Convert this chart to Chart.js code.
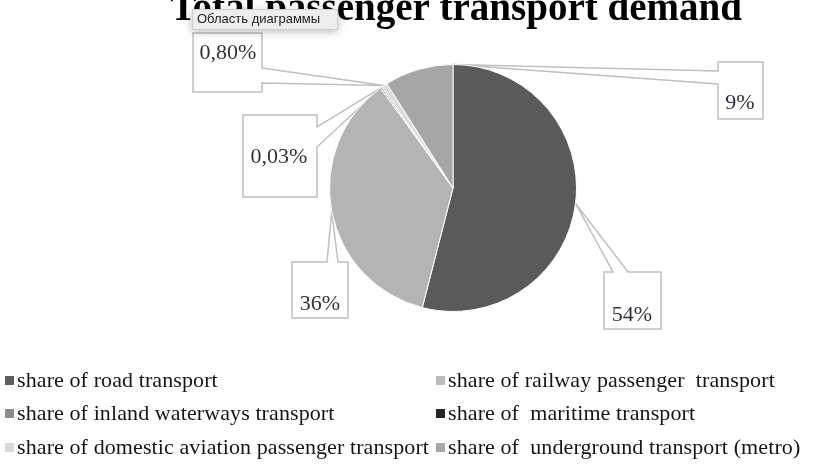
<!DOCTYPE html>
<html>
<head>
<meta charset="utf-8">
<script src="https://cdn.jsdelivr.net/npm/chart.js@4.4.1/dist/chart.umd.min.js"></script>
<style>
  html, body { margin: 0; padding: 0; background: #fff; }
  #wrap { position: relative; width: 830px; height: 469px; overflow: hidden; }
  #legend { position: absolute; left: 0; top: 0; width: 830px; height: 469px; pointer-events: none; }
  .item { position: absolute; font-family: "Liberation Serif", "Times New Roman", serif; font-size: 22px; letter-spacing: 0.1px; color: #151515; white-space: pre; line-height: 24px; }
  .item .box { display: inline-block; width: 9px; height: 9px; margin-right: 3px; vertical-align: 2px; }
</style>
</head>
<body>
<div id="wrap">
  <canvas id="myChart" width="830" height="469"></canvas>
  <div id="legend"></div>
</div>
<script>
// chart data
var categories = [
    "share of road transport",
    "share of railway passenger  transport",
    "share of inland waterways transport",
    "share of  maritime transport",
    "share of domestic aviation passenger transport",
    "share of  underground transport (metro)"
];
var shares = [54, 36, 0.03, 0.17, 0.8, 9];
var shareLabels = ["54%", "36%", "0,03%", "", "0,80%", "9%"];
var sliceColors = ["#5a5a5a", "#b4b4b4", "#8e8e8e", "#262626", "#dcdcdc", "#a6a6a6"];
var legendColors = ["#5e5e5e", "#bcbcbc", "#8c8c8c", "#262626", "#dadada", "#a8a8a8"];

// callout boxes (x, y, w, h), side where the pointer leaves, pointer base, text centre
var callouts = [
    { box: [604, 272, 57, 57], side: "top",   base: [613, 628], text: [632, 315], at: 0.5 },
    { box: [292, 262, 56, 56], side: "top",   base: [327, 338], text: [320, 304], at: 0.5 },
    { box: [243, 115, 74, 82], side: "right", base: [127, 147], text: [279, 157], at: 0.5 },
    null,
    { box: [193, 33, 69, 59],  side: "right", base: [68, 83],   text: [228, 53],  at: 0.5 },
    { box: [718, 62, 45, 57],  side: "left",  base: [71, 84],   text: [740, 103], at: 1.0 }
];

var calloutPlugin = {
    id: "callouts",
    beforeDatasetsDraw: function(chart) {
        var ctx = chart.ctx;
        var arcs = chart.getDatasetMeta(0).data;
        ctx.save();
        for (var i = 0; i < arcs.length; i++) {
            var c = callouts[i];
            if (!c) continue;
            var a = arcs[i];
            var ang = a.startAngle + c.at * (a.endAngle - a.startAngle);
            var tx = a.x + a.outerRadius * Math.cos(ang);
            var ty = a.y + a.outerRadius * Math.sin(ang);
            var x = c.box[0], y = c.box[1], w = c.box[2], h = c.box[3];
            ctx.beginPath();
            ctx.moveTo(x, y);
            if (c.side == "top") {
                ctx.lineTo(c.base[0], y); ctx.lineTo(tx, ty); ctx.lineTo(c.base[1], y);
            }
            ctx.lineTo(x + w, y);
            if (c.side == "right") {
                ctx.lineTo(x + w, c.base[0]); ctx.lineTo(tx, ty); ctx.lineTo(x + w, c.base[1]);
            }
            ctx.lineTo(x + w, y + h);
            ctx.lineTo(x, y + h);
            if (c.side == "left") {
                ctx.lineTo(x, c.base[1]); ctx.lineTo(tx, ty); ctx.lineTo(x, c.base[0]);
            }
            ctx.closePath();
            ctx.fillStyle = "#ffffff";
            ctx.fill();
            ctx.strokeStyle = "#c0c0c0";
            ctx.lineWidth = 1.5;
            ctx.stroke();
        }
        ctx.restore();
    },
    afterDatasetsDraw: function(chart) {
        var ctx = chart.ctx;
        ctx.save();
        ctx.font = "22px 'Liberation Serif', serif";
        ctx.fillStyle = "#30323f";
        ctx.textAlign = "center";
        ctx.textBaseline = "middle";
        for (var i = 0; i < callouts.length; i++) {
            if (!callouts[i]) continue;
            ctx.fillText(shareLabels[i], callouts[i].text[0], callouts[i].text[1]);
        }
        ctx.restore();
    },
    afterDraw: function(chart) {
        var ctx = chart.ctx;
        ctx.save();
        // title, cut at the top edge like the screenshot
        ctx.font = "bold 39px 'Liberation Serif', serif";
        ctx.fillStyle = "#000";
        ctx.textAlign = "center";
        ctx.textBaseline = "alphabetic";
        ctx.fillText("Total passenger transport demand", 456, 20);
        // the "chart area" hover hint
        ctx.shadowColor = "rgba(0,0,0,0.25)";
        ctx.shadowBlur = 8;
        ctx.shadowOffsetY = 2;
        ctx.fillStyle = "#eeeeee";
        ctx.fillRect(192, 9, 146, 21);
        ctx.shadowColor = "transparent";
        ctx.strokeStyle = "#cfcfcf";
        ctx.lineWidth = 1;
        ctx.strokeRect(192.5, 9.5, 145, 20);
        ctx.font = "13px 'Liberation Sans', sans-serif";
        ctx.fillStyle = "#222";
        ctx.textAlign = "left";
        ctx.textBaseline = "middle";
        ctx.fillText("Область диаграммы", 197, 19.5);
        ctx.restore();
    }
};

var canvas = document.getElementById("myChart");
var ctx = canvas.getContext("2d");

var myChart = new Chart(ctx, {
    type: "pie",
    data: {
        labels: categories,
        datasets: [{
            data: shares,
            backgroundColor: sliceColors,
            borderColor: "#ffffff",
            borderWidth: 1
        }]
    },
    options: {
        responsive: false,
        animation: false,
        layout: { padding: { left: 329, right: 253, top: 64, bottom: 157 } },
        plugins: {
            legend: { display: false },
            tooltip: { enabled: false }
        }
    },
    plugins: [calloutPlugin]
});

// legend in two columns, row by row
var legendCols = [5, 436];
var legendRows = [380, 413, 447];
var legend = document.getElementById("legend");
for (var i = 0; i < categories.length; i++) {
    var d = document.createElement("div");
    d.className = "item";
    d.style.left = legendCols[i % 2] + "px";
    d.style.top = (legendRows[Math.floor(i / 2)] - 12) + "px";
    d.innerHTML = '<span class="box" style="background:' + legendColors[i] + '"></span>';
    d.appendChild(document.createTextNode(categories[i]));
    legend.appendChild(d);
}
</script>
</body>
</html>
